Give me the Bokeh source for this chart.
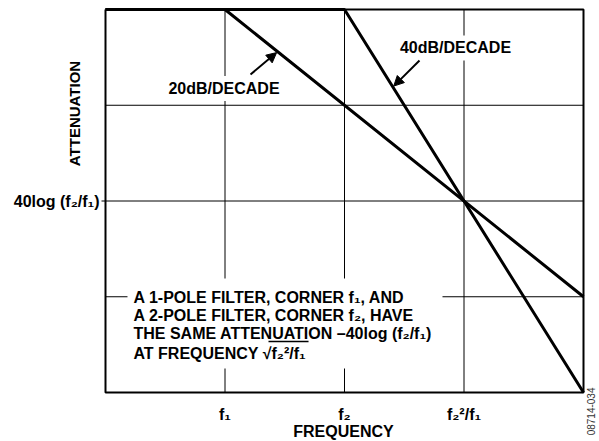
import math
from bokeh.plotting import figure
from bokeh.models import Range1d, Label, Arrow, NormalHead
from bokeh.core.properties import value
from bokeh.embed import file_html
from bokeh.resources import INLINE

# ---- data (grid units: frequency steps / attenuation steps) ----
freq_1pole = [0, 1, 4]
att_1pole = [0, 0, -3]
freq_2pole = [0, 2, 4]
att_2pole = [0, 0, -4]

x_ticks = [1, 2, 3]
x_tick_labels = ["f\u2081", "f\u2082", "f\u2082\u00b2/f\u2081"]
y_ticks = [-2]
y_tick_labels = ["40log (f\u2082/f\u2081)"]
x_grid = [1, 2, 3]
y_grid = [-1, -2, -3]
x_extent = [0, 4]
y_extent = [-4, 0]

note_lines = [
    "A 1-POLE FILTER, CORNER f\u2081, AND",
    "A 2-POLE FILTER, CORNER f\u2082, HAVE",
    "THE SAME ATTENUATION \u201340log (f\u2082/f\u2081)",
    "AT FREQUENCY \u221af\u2082\u00b2/f\u2081",
]

FONT = "Liberation Sans"
FS = "16px"

# pixel scale of the chart box: 119.5 px per x unit, 95.75 px per y unit
XS, YS = 119.5, 95.75
X0, Y0 = 105, 9  # chart box top-left in canvas pixels
W, H = 599, 441

p = figure(width=W, height=H,
           x_range=Range1d(-X0 / XS, (W - X0) / XS),
           y_range=Range1d(-(H - Y0) / YS, Y0 / YS),
           output_backend="svg", toolbar_location=None,
           x_axis_location=None, y_axis_location=None, min_border=0)
p.outline_line_color = None
p.grid.visible = False
p.background_fill_color = "white"

xmin, xmax = x_extent
ymin, ymax = y_extent

# grid lines
p.segment(x0=x_grid, y0=[ymin] * len(x_grid), x1=x_grid, y1=[ymax] * len(x_grid),
          line_color="black", line_width=1)
p.segment(x0=[xmin] * len(y_grid), y0=y_grid, x1=[xmax] * len(y_grid), y1=y_grid,
          line_color="black", line_width=1)
# y tick mark
p.segment(x0=[xmin - 4 / XS] * len(y_ticks), y0=y_ticks, x1=[xmin] * len(y_ticks),
          y1=y_ticks, line_color="black", line_width=1)

# white backdrop behind the note (interrupts the grid lines)
p.quad(left=[0.184], right=[2.82], top=[-2.809], bottom=[-3.749],
       fill_color="white", line_color=None)

# chart box
p.line([xmin, xmax, xmax, xmin, xmin], [ymax, ymax, ymin, ymin, ymax],
       line_color="black", line_width=2)

# curves
p.line(freq_1pole, att_1pole, line_color="black", line_width=3)
p.line(freq_2pole, att_2pole, line_color="black", line_width=3)

# overbar of the square root
p.segment(x0=[1.364], y0=[-3.467], x1=[1.699], y1=[-3.467],
          line_color="black", line_width=1.5)

# tick labels
p.text(x=x_ticks, y=[-4.225] * len(x_ticks), text=x_tick_labels,
       text_font=value(FONT), text_font_style="bold",
       text_font_size=value(FS), text_align="center", text_baseline="middle",
       text_color="black")
p.text(x=[xmin] * len(y_ticks), y=y_ticks, text=y_tick_labels, x_offset=-6,
       text_font=value(FONT), text_font_style="bold",
       text_font_size=value(FS), text_align="right", text_baseline="middle",
       text_color="black")

# note
note_y = [-3.003, -3.196, -3.389, -3.5875]
p.text(x=[0.2343] * len(note_lines), y=note_y, text=note_lines,
       text_font=value(FONT), text_font_style="bold",
       text_font_size=value(FS), text_align="left", text_baseline="middle",
       text_color="black")


def lab(x, y, text, **kw):
    opts = dict(text_font=FONT, text_font_style="bold", text_font_size=FS,
                text_color="black")
    opts.update(kw)
    p.add_layout(Label(x=x, y=y, text=text, **opts))


# slope labels with white background
lab(0.9916, -0.825, "20dB/DECADE", text_align="center", text_baseline="middle",
    background_fill_color="white", padding=4)
lab(2.9289, -0.402, "40dB/DECADE", text_align="center", text_baseline="middle",
    background_fill_color="white", padding=4)

# arrows
p.add_layout(Arrow(x_start=1.2134, y_start=-0.6789, x_end=1.432, y_end=-0.45,
                   line_width=2, line_color="black",
                   end=NormalHead(size=10, fill_color="black", line_color="black")))
p.add_layout(Arrow(x_start=2.6276, y_start=-0.5326, x_end=2.412, y_end=-0.80,
                   line_width=2, line_color="black",
                   end=NormalHead(size=10, fill_color="black", line_color="black")))

# axis titles
lab(-0.2594, -1.0862, "ATTENUATION", angle=math.pi / 2, text_align="center",
    text_baseline="middle", text_font_size="15px")
lab(1.9916, -4.4125, "FREQUENCY", text_align="center", text_baseline="middle")

# figure id
lab(4.06, -3.948, "08714-034", angle=math.pi / 2, text_align="right",
    text_baseline="middle", text_font_style="normal", text_font_size="10px",
    text_color="#333333")

open("out.html", "w").write(file_html(p, INLINE))
